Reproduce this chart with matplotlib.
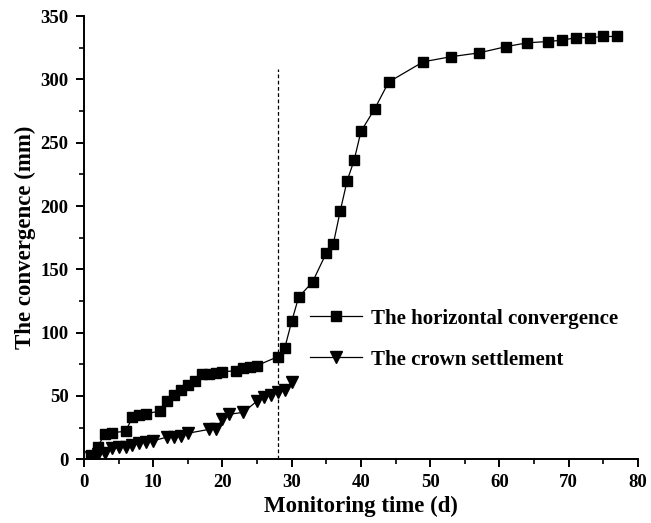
import matplotlib
matplotlib.use('Agg')
import matplotlib.pyplot as plt
from matplotlib.ticker import MultipleLocator

# ── Data ─────────────────────────────────────────────────────────────────────
h_days = [1, 2, 3, 4, 6, 7, 8, 9, 11, 12, 13, 14, 15, 16, 17, 18, 19, 20,
          22, 23, 24, 25, 28, 29, 30, 31, 33, 35, 36, 37, 38, 39, 40, 42,
          44, 49, 53, 57, 61, 64, 67, 69, 71, 73, 75, 77]
h_conv = [3, 10, 20, 21, 22, 33, 35, 36, 38, 46, 51, 55, 59, 62, 67, 67, 68, 69,
          70, 72, 73, 74, 81, 88, 109, 128, 140, 163, 170, 196, 220, 236, 259, 277,
          298, 314, 318, 321, 326, 329, 330, 331, 333, 333, 334, 334]

c_days = [1, 2, 3, 4, 5, 6, 7, 8, 9, 10, 12, 13, 14, 15, 18, 19, 20, 21,
          23, 25, 26, 27, 28, 29, 30]
c_sett = [2, 4, 5, 8.5, 9.5, 10, 11, 12.5, 13.5, 14.5, 17.5, 17.5, 18, 20.5,
          23.5, 23.5, 31.5, 35.5, 37, 46, 49, 50.5, 53, 54.5, 61]

split_day = 28
split_top = 308

plt.rcParams.update({
    'font.family': ['Liberation Serif', 'DejaVu Serif'],
    'font.weight': 'bold',
    'font.size': 13.5,
    'axes.labelweight': 'bold',
    'axes.labelsize': 16.5,
    'legend.fontsize': 15,
    'axes.linewidth': 1.4,
})

fig = plt.figure(figsize=(6.51, 5.23), dpi=100)
ax = fig.add_axes([0.129, 0.122, 0.851, 0.847])

ax.plot(h_days, h_conv, '-', color='black', lw=0.9, marker='s', ms=6.5,
        label='The horizontal convergence')
ax.plot(c_days, c_sett, '-', color='black', lw=0.9, marker='v', ms=8.5,
        label='The crown settlement')
ax.vlines(split_day, 0, split_top, colors='black', linestyles=(0, (3, 2)), lw=0.9)

ax.set_xlim(0, 80)
ax.set_ylim(0, 350)
ax.xaxis.set_major_locator(MultipleLocator(10))
ax.xaxis.set_minor_locator(MultipleLocator(5))
ax.yaxis.set_major_locator(MultipleLocator(50))
ax.yaxis.set_minor_locator(MultipleLocator(25))
ax.tick_params(which='major', direction='out', length=6, width=1.4, pad=5)
ax.tick_params(which='minor', direction='out', length=3.5, width=1.2)
ax.spines['top'].set_visible(False)
ax.spines['right'].set_visible(False)

ax.set_xlabel('Monitoring time (d)', labelpad=3)
ax.set_ylabel('The convergence (mm)', labelpad=3)

ax.legend(loc='center left', bbox_to_anchor=(0.408, 0.271), frameon=False,
          borderpad=0, borderaxespad=0, handlelength=2.5, handletextpad=0.45,
          labelspacing=1.0)

fig.savefig('out.png', dpi=100)
